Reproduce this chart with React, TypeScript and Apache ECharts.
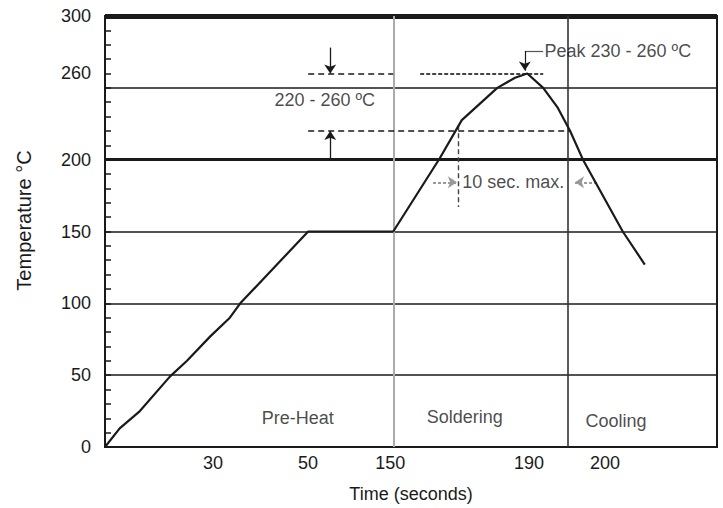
import React, { useEffect, useRef } from 'react';
import * as echarts from 'echarts';

// Schematic time axis: positions 0..100 across the plot, with the printed labels
const xTickPositions = [17.65, 33.17, 46.6, 69.3, 81.7];
const xTickLabels = ['30', '50', '150', '190', '200'];

// Temperature axis labels (°C)
const yTickValues = [0, 50, 100, 150, 200, 260, 300];
const gridTemps = [50, 100, 150, 200, 250];

// Reflow profile (schematic position, °C)
const profileX = [0, 2.4, 5.7, 10.6, 13.4, 17.2, 20.4, 22.1, 33.2, 47.1, 54.7, 58.3, 64.1, 67.0, 69.0, 71.6, 74.0, 76.0, 78.1, 84.6, 88.2];
const profileTemp = [0, 13, 25, 49, 60, 77, 90, 100, 150, 150, 201, 227.5, 250, 257, 260, 250, 236, 220, 200, 150, 127];

// Phase boundaries and names
const phaseBoundaries = [47.1, 75.65];
const phaseNames = ['Pre-Heat', 'Soldering', 'Cooling'];
const phaseLabelX = [31.5, 58.8, 83.5];
const phaseLabelTemp = [20, 21, 18];

// Soldering window
const windowLow = 220;
const windowHigh = 260;
const windowStartX = 33.2;
const windowArrowX = 36.8;
const peakX = 68.6;
const tenSecX = 57.8;

const annotationTexts = ['220 - 260 ºC', 'Peak 230 - 260 ºC', '10 sec. max.'];
const annotationX = [35.9, 83.8, 66.7];
const annotationTemp = [241.7, 275.6, 184.2];

export default function App() {
  const ref = useRef<HTMLDivElement>(null);

  useEffect(() => {
    if (!ref.current) return;
    const chart = echarts.init(ref.current, null, { renderer: 'svg' });
    const font = 'Liberation Sans, Arial, sans-serif';
    const ink = '#1a1a1a';

    const gridLineData: any[] = gridTemps.map((t) => ({
      yAxis: t,
      lineStyle: { color: ink, width: t === 200 ? 3 : 1.6, type: 'solid' },
    }));
    gridLineData.push({ yAxis: 300, lineStyle: { color: ink, width: 5, type: 'solid' } });
    gridLineData.push({ xAxis: phaseBoundaries[0], lineStyle: { color: '#ababab', width: 2, type: 'solid' } });
    gridLineData.push({ xAxis: phaseBoundaries[1], lineStyle: { color: '#333333', width: 1.6, type: 'solid' } });

    const dashed = { color: ink, width: 1.6, type: [6, 4] };
    const seg = (a: number[], b: number[], style: any, arrow: boolean) => [
      { coord: a, symbol: 'none', lineStyle: style },
      { coord: b, symbol: arrow ? 'arrow' : 'none', symbolSize: 9 },
    ];

    const annotationLines: any[] = [
      seg([windowStartX, windowHigh], [47.1, windowHigh], dashed, false),
      seg([51.5, windowHigh], [71.6, windowHigh], { color: '#444', width: 2.2, type: [4, 2] }, false),
      seg([windowStartX, windowLow], [76.0, windowLow], dashed, false),
      seg([windowArrowX, 278], [windowArrowX, windowHigh], { color: ink, width: 1.3, type: 'solid' }, true),
      seg([windowArrowX, 200], [windowArrowX, windowLow], { color: ink, width: 1.3, type: 'solid' }, true),
      seg([71.6, 275.6], [peakX, 275.6], { color: '#555', width: 1.2, type: 'solid' }, false),
      seg([peakX, 275.6], [peakX, 262], { color: ink, width: 1.2, type: 'solid' }, true),
      seg([tenSecX, 224], [tenSecX, 167], { color: '#444', width: 1.4, type: [5, 3] }, false),
      seg([53.6, 184.2], [57.5, 184.2], { color: '#999', width: 2, type: [3, 2] }, true),
      seg([80.4, 184.2], [76.8, 184.2], { color: '#999', width: 2, type: [3, 2] }, true),
    ];

    const textData: any[] = [];
    annotationTexts.forEach((t, i) => textData.push({ name: t, value: [annotationX[i], annotationTemp[i]] }));
    phaseNames.forEach((t, i) => textData.push({ name: t, value: [phaseLabelX[i], phaseLabelTemp[i]] }));

    const option: any = {
      animation: false,
      backgroundColor: '#ffffff',
      textStyle: { fontFamily: font },
      grid: {
        left: 105,
        right: 6,
        top: 16,
        bottom: 59,
        show: true,
        borderColor: ink,
        borderWidth: 2,
        backgroundColor: 'transparent',
      },
      xAxis: {
        type: 'value',
        min: 0,
        max: 100,
        name: 'Time (seconds)',
        nameLocation: 'middle',
        nameGap: 38,
        nameTextStyle: { fontSize: 18, color: ink, fontFamily: font },
        axisLine: { show: true, lineStyle: { color: ink, width: 2 } },
        axisTick: { show: false },
        splitLine: { show: false },
        axisLabel: {
          customValues: xTickPositions,
          formatter: (v: number) => {
            const i = xTickPositions.findIndex((p) => Math.abs(p - v) < 0.01);
            return i >= 0 ? xTickLabels[i] : '';
          },
          fontSize: 18,
          color: ink,
          margin: 7,
          fontFamily: font,
        },
      },
      yAxis: {
        type: 'value',
        min: 0,
        max: 300,
        interval: 10,
        name: 'Temperature °C',
        nameLocation: 'middle',
        nameGap: 71,
        nameTextStyle: { fontSize: 20, color: ink, fontFamily: font, padding: [0, 0, 0, 22] },
        axisLine: { show: true, lineStyle: { color: ink, width: 2 } },
        axisTick: { show: true, inside: true, length: 6, lineStyle: { color: ink, width: 1.5 } },
        splitLine: { show: false },
        axisLabel: {
          formatter: (v: number) => (yTickValues.includes(Math.round(v)) ? String(Math.round(v)) : ''),
          fontSize: 18,
          color: ink,
          margin: 14,
          fontFamily: font,
        },
      },
      series: [
        {
          name: 'frame',
          type: 'line',
          data: [],
          clip: false,
          silent: true,
          markLine: {
            silent: true,
            symbol: 'none',
            label: { show: false },
            data: gridLineData,
          },
        },
        {
          name: 'annotations',
          type: 'line',
          data: [],
          clip: false,
          silent: true,
          markLine: {
            silent: true,
            symbol: ['none', 'arrow'],
            symbolSize: 9,
            label: { show: false },
            data: annotationLines,
          },
        },
        {
          name: 'profile',
          type: 'line',
          data: profileX.map((x, i) => [x, profileTemp[i]]),
          showSymbol: false,
          symbol: 'none',
          lineStyle: { color: ink, width: 2.2 },
          z: 5,
        },
        {
          name: 'texts',
          type: 'scatter',
          data: textData,
          symbolSize: 1,
          itemStyle: { color: 'rgba(0,0,0,0)' },
          silent: true,
          label: {
            show: true,
            position: 'inside',
            formatter: '{b}',
            fontSize: 18,
            color: ink,
            fontFamily: font,
          },
          z: 6,
        },
      ],
    };

    chart.setOption(option);
    return () => chart.dispose();
  }, []);

  return (
    <div
      ref={ref}
      style={{ position: 'fixed', left: 0, top: 0, width: 723, height: 508, background: '#fff' }}
    />
  );
}
